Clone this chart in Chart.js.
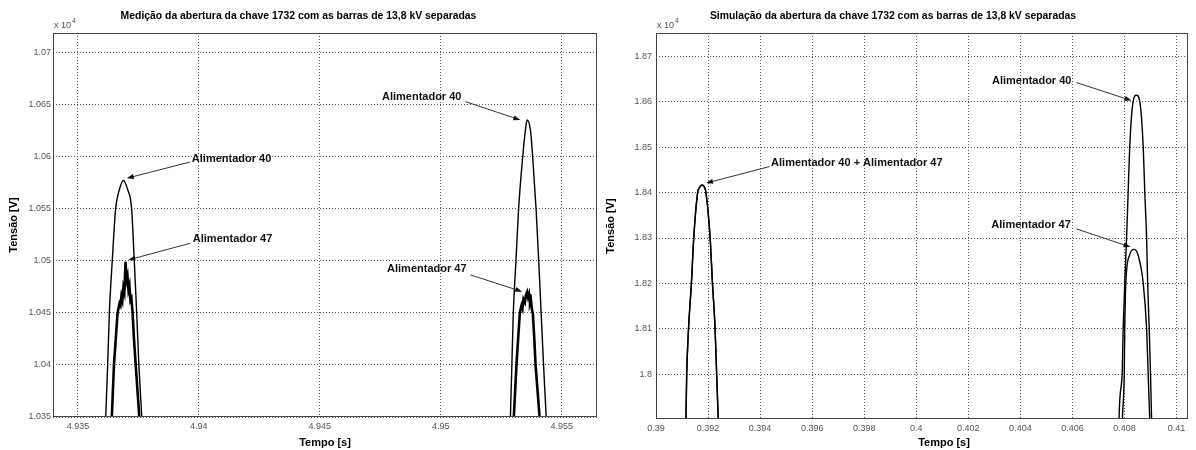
<!DOCTYPE html>
<html><head><meta charset="utf-8">
<script src="https://cdn.jsdelivr.net/npm/chart.js@4.4.0/dist/chart.umd.min.js"></script>
<style>
html,body{margin:0;padding:0;background:#fff;width:1196px;height:450px;overflow:hidden;}
#l{position:absolute;left:0;top:0;}
#r{position:absolute;left:598px;top:0;}
</style></head><body>
<canvas id="l" width="598" height="450"></canvas>
<canvas id="r" width="598" height="450"></canvas>
<script>
// ---------- LEFT: measurement ----------
const measTitle = 'Medição da abertura da chave 1732 com as barras de 13,8 kV separadas';
const measXTicks = [4.935, 4.94, 4.945, 4.95, 4.955];
const measXLabels = ['4.935', '4.94', '4.945', '4.95', '4.955'];
const measYTicks = [10350, 10400, 10450, 10500, 10550, 10600, 10650, 10700];
const measYLabels = ['1.035', '1.04', '1.045', '1.05', '1.055', '1.06', '1.065', '1.07'];

const meas40T = [4.93606, 4.93615, 4.93623, 4.93630, 4.93642, 4.93656, 4.93670, 4.93688, 4.93706, 4.93722, 4.93733, 4.93743, 4.93752, 4.93764, 4.93775,
  4.945,
  4.95280, 4.95288, 4.95294, 4.95300, 4.95311, 4.95322, 4.95339, 4.95350, 4.95357, 4.95371, 4.95380, 4.95394, 4.95405, 4.95415, 4.95425, 4.95436, 4.95446];
const meas40V = [10300, 10350, 10400, 10450, 10500, 10550, 10567, 10577, 10568, 10550, 10500, 10450, 10400, 10350, 10300,
  null,
  10300, 10350, 10400, 10450, 10500, 10550, 10600, 10625, 10635, 10625, 10600, 10550, 10500, 10450, 10400, 10350, 10300];

const meas47T = [4.93632, 4.93640, 4.93649, 4.93664, 4.93672, 4.93676, 4.93680, 4.93684, 4.93688, 4.93692, 4.93697, 4.93701, 4.93705, 4.93709, 4.93713, 4.93717, 4.93721, 4.93726, 4.93732, 4.93739, 4.93754, 4.93764,
  4.945,
  4.95292, 4.95302, 4.95313, 4.95327, 4.95334, 4.95338, 4.95342, 4.95348, 4.95352, 4.95357, 4.95361, 4.95365, 4.95369, 4.95373, 4.95377, 4.95381, 4.95387, 4.95392, 4.95409, 4.95419];
const meas47V = [10300, 10349, 10400, 10450, 10459, 10457, 10466, 10462, 10474, 10470, 10499, 10481, 10485, 10472, 10476, 10462, 10464, 10450, 10424, 10400, 10349, 10300,
  null,
  10300, 10349, 10400, 10450, 10457, 10454, 10463, 10460, 10467, 10470, 10465, 10468, 10459, 10462, 10453, 10449, 10424, 10400, 10349, 10300];

// annotations (data coords): text anchor, arrow tail, arrow tip
const measNoteText = ['Alimentador 40', 'Alimentador 47', 'Alimentador 40', 'Alimentador 47'];
const measNoteTxt = [4.93971, 4.93975, 4.94757, 4.94778];
const measNoteTyv = [10597.6, 10520.8, 10656.8, 10492.3];
const measNoteAx = [4.93964, 4.93964, 4.95102, 4.95123];
const measNoteAy = [10594.7, 10516.7, 10652.6, 10486.3];
const measNoteBx = [4.93702, 4.93708, 4.95329, 4.95337];
const measNoteBy = [10579.1, 10500.7, 10635.0, 10470.3];

// ---------- RIGHT: simulation ----------
const simTitle = 'Simulação da abertura da chave 1732 com as barras de 13,8 kV separadas';
const simXTicks = [0.39, 0.392, 0.394, 0.396, 0.398, 0.4, 0.402, 0.404, 0.406, 0.408, 0.41];
const simXLabels = ['0.39', '0.392', '0.394', '0.396', '0.398', '0.4', '0.402', '0.404', '0.406', '0.408', '0.41'];
const simYTicks = [18000, 18100, 18200, 18300, 18400, 18500, 18600, 18700];
const simYLabels = ['1.8', '1.81', '1.82', '1.83', '1.84', '1.85', '1.86', '1.87'];

const sim40T = [0.39114, 0.39115, 0.39118, 0.39125, 0.39136, 0.39145, 0.39160, 0.39167, 0.39177, 0.39187, 0.39192, 0.39208, 0.39217, 0.39227, 0.39233, 0.39239, 0.39241,
  0.40,
  0.40778, 0.40779, 0.40791, 0.40795, 0.40801, 0.40808, 0.40814, 0.40820, 0.40833, 0.40846, 0.40859, 0.40872, 0.40878, 0.40885, 0.40889, 0.40895, 0.40900, 0.40904, 0.40906];
const sim40V = [17850, 17901, 18000, 18100, 18200, 18300, 18400, 18411, 18417, 18411, 18400, 18300, 18200, 18100, 18000, 17901, 17850,
  null,
  17850, 17901, 18000, 18100, 18200, 18300, 18400, 18500, 18600, 18615, 18600, 18500, 18400, 18300, 18200, 18100, 18000, 17901, 17850];

const sim47T = [0.39114, 0.39115, 0.39118, 0.39125, 0.39136, 0.39145, 0.39160, 0.39167, 0.39177, 0.39187, 0.39192, 0.39208, 0.39217, 0.39227, 0.39233, 0.39239, 0.39241,
  0.40,
  0.40790, 0.40792, 0.40799, 0.40801, 0.40805, 0.40820, 0.40836, 0.40852, 0.40872, 0.40885, 0.40891, 0.40897, 0.40900];
const sim47V = [17850, 17901, 18000, 18100, 18200, 18300, 18400, 18411, 18417, 18411, 18400, 18300, 18200, 18100, 18000, 17901, 17850,
  null,
  17850, 17901, 18000, 18100, 18200, 18263, 18275, 18263, 18200, 18100, 18000, 17901, 17850];

const simNoteText = ['Alimentador 40 + Alimentador 47', 'Alimentador 40', 'Alimentador 47'];
const simNoteTxt = [0.394423, 0.402908, 0.402885];
const simNoteTyv = [18465, 18647, 18329];
const simNoteAx = [0.394358, 0.406154, 0.406154];
const simNoteAy = [18457.5, 18642.7, 18320.2];
const simNoteBx = [0.391923, 0.408269, 0.408231];
const simNoteBy = [18421, 18603, 18280];

// ---------- helpers ----------
const FONT = '"Liberation Sans", Arial, Helvetica, sans-serif';
const pts = (t, v) => t.map((x, i) => ({x: x, y: v[i]}));
const notes = (txt, tx, ty, ax, ay, bx, by) => txt.map((s, i) => ({text: s, tx: tx[i], ty: ty[i], ax: ax[i], ay: ay[i], bx: bx[i], by: by[i]}));

const framePlugin = {
  id: 'frame',
  afterDatasetsDraw(chart) {
    const {ctx, chartArea: a} = chart;
    const extra = chart.config._config.extra || {};
    ctx.save();
    ctx.strokeStyle = '#444';
    ctx.lineWidth = 1;
    ctx.strokeRect(Math.round(a.left) + 0.5, Math.round(a.top) + 0.5, Math.round(a.right - a.left) - 1, Math.round(a.bottom - a.top) - 1);
    // exponent label
    ctx.fillStyle = '#555';
    ctx.textBaseline = 'alphabetic';
    ctx.textAlign = 'left';
    ctx.font = '9px ' + FONT;
    ctx.fillText('x 10', a.left + 1, a.top - 5);
    const w = ctx.measureText('x 10').width;
    ctx.font = '7px ' + FONT;
    ctx.fillText('4', a.left + 1 + w + 1, a.top - 10);
    // x axis title
    ctx.fillStyle = '#000';
    ctx.font = 'bold 11px ' + FONT;
    ctx.textAlign = 'center';
    ctx.textBaseline = 'middle';
    ctx.fillText('Tempo [s]', (a.left + a.right) / 2 + (extra.xTitleDx || 0), 443);
    ctx.restore();
  }
};

const notesPlugin = {
  id: 'notes',
  afterDatasetsDraw(chart) {
    const {ctx} = chart;
    const xs = chart.scales.x, ys = chart.scales.y;
    const items = chart.config._config.notesData || [];
    ctx.save();
    items.forEach(n => {
      const tx = xs.getPixelForValue(n.tx), ty = ys.getPixelForValue(n.ty);
      ctx.font = 'bold 11px ' + FONT;
      ctx.fillStyle = '#111';
      ctx.textBaseline = 'middle';
      ctx.textAlign = 'left';
      ctx.fillText(n.text, tx, ty);
      const ax = xs.getPixelForValue(n.ax), ay = ys.getPixelForValue(n.ay);
      const bx = xs.getPixelForValue(n.bx), by = ys.getPixelForValue(n.by);
      const ang = Math.atan2(by - ay, bx - ax);
      const L = 7, H = 2.5;
      ctx.strokeStyle = '#333';
      ctx.lineWidth = 1;
      ctx.beginPath();
      ctx.moveTo(ax, ay);
      ctx.lineTo(bx - Math.cos(ang) * L * 0.8, by - Math.sin(ang) * L * 0.8);
      ctx.stroke();
      ctx.fillStyle = '#111';
      ctx.beginPath();
      ctx.moveTo(bx, by);
      ctx.lineTo(bx - Math.cos(ang) * L - Math.sin(ang) * H, by - Math.sin(ang) * L + Math.cos(ang) * H);
      ctx.lineTo(bx - Math.cos(ang) * L + Math.sin(ang) * H, by - Math.sin(ang) * L - Math.cos(ang) * H);
      ctx.closePath();
      ctx.fill();
    });
    ctx.restore();
  }
};

function makeChart(id, cfg) {
  const grid = {color: '#555', lineWidth: 1, drawTicks: false};
  return new Chart(document.getElementById(id), {
    type: 'line',
    notesData: cfg.notes,
    extra: {xTitleDx: cfg.xTitleDx},
    data: {
      datasets: cfg.series.map(s => ({
        data: s.data,
        borderColor: '#000',
        borderWidth: s.width,
        pointRadius: 0,
        fill: false,
        spanGaps: false,
        cubicInterpolationMode: s.monotone ? 'monotone' : 'default',
        tension: 0,
        clip: 0
      }))
    },
    options: {
      responsive: false,
      animation: false,
      events: [],
      layout: {padding: {left: 0, right: cfg.padRight, top: 0, bottom: 0}},
      plugins: {
        legend: {display: false},
        tooltip: {enabled: false},
        title: {
          display: true, text: cfg.title, color: '#000',
          font: {family: FONT, size: 10.4, weight: 'bold'},
          padding: {top: 10, bottom: 10.5}
        }
      },
      scales: {
        x: {
          type: 'linear', min: cfg.xMin, max: cfg.xMax,
          afterBuildTicks: sc => { sc.ticks = cfg.xTicks.map(v => ({value: v})); },
          afterFit: sc => { sc.height = cfg.xH; },
          ticks: {
            autoSkip: false, maxRotation: 0, color: '#555', padding: 4,
            font: {family: FONT, size: 9},
            callback: (v, i) => cfg.xLabels[i]
          },
          grid: Object.assign({}, grid),
          border: {display: false, dash: [1, 2]},
          title: {display: false}
        },
        y: {
          type: 'linear', min: cfg.yMin, max: cfg.yMax,
          afterBuildTicks: sc => { sc.ticks = cfg.yTicks.map(v => ({value: v})); },
          afterFit: sc => { sc.width = cfg.yW; },
          ticks: {
            color: '#555', padding: cfg.yPad,
            font: {family: FONT, size: 9},
            callback: (v, i) => cfg.yLabels[i]
          },
          grid: Object.assign({}, grid),
          border: {display: false, dash: [1, 2]},
          title: {display: true, text: 'Tensão [V]', color: '#000', font: {family: FONT, size: 11, weight: 'bold'}, padding: {top: cfg.yTitlePad, bottom: 0}}
        }
      }
    },
    plugins: [framePlugin, notesPlugin]
  });
}

Chart.defaults.font.family = FONT;
Chart.defaults.scale.grid.borderDash = [1, 2];
Chart.defaults.elements.line.borderCapStyle = 'butt';

makeChart('l', {
  title: measTitle,
  xMin: 4.93397, xMax: 4.95646, yMin: 10350, yMax: 10718.5,
  xTicks: measXTicks, xLabels: measXLabels, yTicks: measYTicks, yLabels: measYLabels,
  xH: 33, yW: 53, padRight: 1, yPad: 2, yTitlePad: 7, xTitleDx: 0,
  series: [
    {data: pts(meas40T, meas40V), width: 1.4, monotone: true},
    {data: pts(meas47T, meas47V), width: 2.6, monotone: false}
  ],
  notes: notes(measNoteText, measNoteTxt, measNoteTyv, measNoteAx, measNoteAy, measNoteBx, measNoteBy)
});

makeChart('r', {
  title: simTitle,
  xMin: 0.39, xMax: 0.41044, yMin: 17901, yMax: 18752,
  xTicks: simXTicks, xLabels: simXLabels, yTicks: simYTicks, yLabels: simYLabels,
  xH: 31, yW: 58, padRight: 8, yPad: 4, yTitlePad: 6, xTitleDx: 22,
  series: [
    {data: pts(sim40T, sim40V), width: 1.4, monotone: true},
    {data: pts(sim47T, sim47V), width: 1.4, monotone: true}
  ],
  notes: notes(simNoteText, simNoteTxt, simNoteTyv, simNoteAx, simNoteAy, simNoteBx, simNoteBy)
});
</script>
</body></html>
